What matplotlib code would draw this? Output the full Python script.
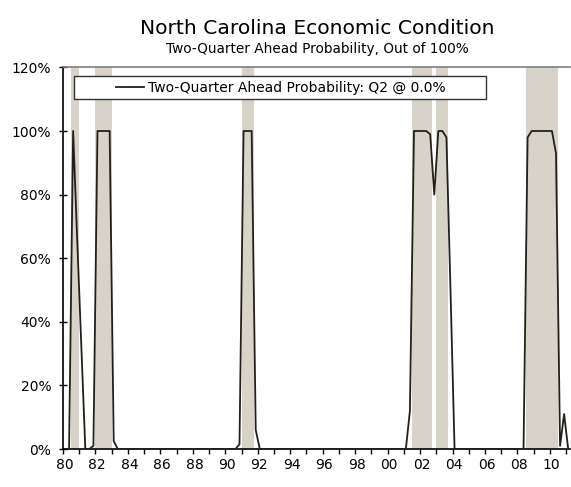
import numpy as np
import matplotlib
matplotlib.use("Agg")
import matplotlib.pyplot as plt
from matplotlib.patches import Rectangle

# quarterly probability series, 1980Q1 .. 2011Q1 (percent)
prob = ([0, 0, 100, 66, 33, 0, 0, 1, 100, 100, 100, 100, 2.5]
        + [0] * 29
        + [0, 1.5, 100, 100, 100, 6]
        + [0] * 36
        + [0, 12, 100, 100, 100, 100, 99, 80, 100, 100, 98, 50]
        + [0] * 17
        + [0, 98, 100, 100, 100, 100, 100, 100, 93, 1, 11, 0])
start_year = 1980

# shaded state recession periods (in years)
band_start = [1980.5, 1982.0, 1991.0, 2001.5, 2003.0, 2008.5]
band_end = [1981.0, 1983.0, 1991.75, 2002.75, 2003.75, 2010.5]

year_ticks = list(range(1980, 2012))
label_years = list(range(1980, 2011, 2))
y_ticks = [0, 20, 40, 60, 80, 100, 120]

title = "North Carolina Economic Condition"
subtitle = "Two-Quarter Ahead Probability, Out of 100%"
legend_label = "Two-Quarter Ahead Probability: Q2 @ 0.0%"

# each quarter sits in the middle of its category slot
x = start_year + (np.arange(len(prob)) + 0.5) / 4.0

fig = plt.figure(figsize=(5.71, 4.87), dpi=100)
ax = fig.add_axes([0.1103, 0.078, 0.8883, 0.7836])

for s, e in zip(band_start, band_end):
    ax.axvspan(s, e, color="#d7d3c8", lw=0, zorder=1)

line, = ax.plot(x, prob, color="#231f1a", lw=1.3, zorder=3)

ax.set_xlim(start_year, start_year + len(prob) / 4.0)
ax.set_ylim(0, 120)

ax.set_yticks(y_ticks)
ax.set_yticklabels([f"{v}%" for v in y_ticks])
ax.set_xticks(year_ticks)
ax.set_xticklabels([])
ax.set_xticks([y + 0.1 for y in label_years], minor=True)
ax.set_xticklabels([f"{y % 100:02d}" for y in label_years], minor=True)

ax.tick_params(axis="y", direction="inout", length=6, width=1, labelsize=10, pad=5.5)
ax.tick_params(axis="x", which="major", direction="out", length=3.5, width=1)
ax.tick_params(axis="x", which="minor", length=0, labelsize=10, pad=6.5)

for side in ["left", "bottom"]:
    ax.spines[side].set_color("black")
    ax.spines[side].set_linewidth(1.2)
ax.spines["top"].set_color("#7f7f7f")
ax.spines["top"].set_linewidth(1.2)
ax.spines["right"].set_visible(False)

# legend box, Excel style: wide frame with centered content
ax.add_patch(Rectangle((0.0217, 0.9164), 0.812, 0.0611, transform=ax.transAxes,
                       facecolor="white", edgecolor="#333333", lw=1, zorder=4))
leg = ax.legend([line], [legend_label], loc="center", frameon=False,
                bbox_to_anchor=(0.43, 0.947), fontsize=10,
                handlelength=2.0, handletextpad=0.3)
leg.set_zorder(5)

fig.text(0.556, 0.9425, title, ha="center", va="center", fontsize=14.6)
fig.text(0.556, 0.8988, subtitle, ha="center", va="center", fontsize=9.8)

fig.savefig("out.png", dpi=100)
